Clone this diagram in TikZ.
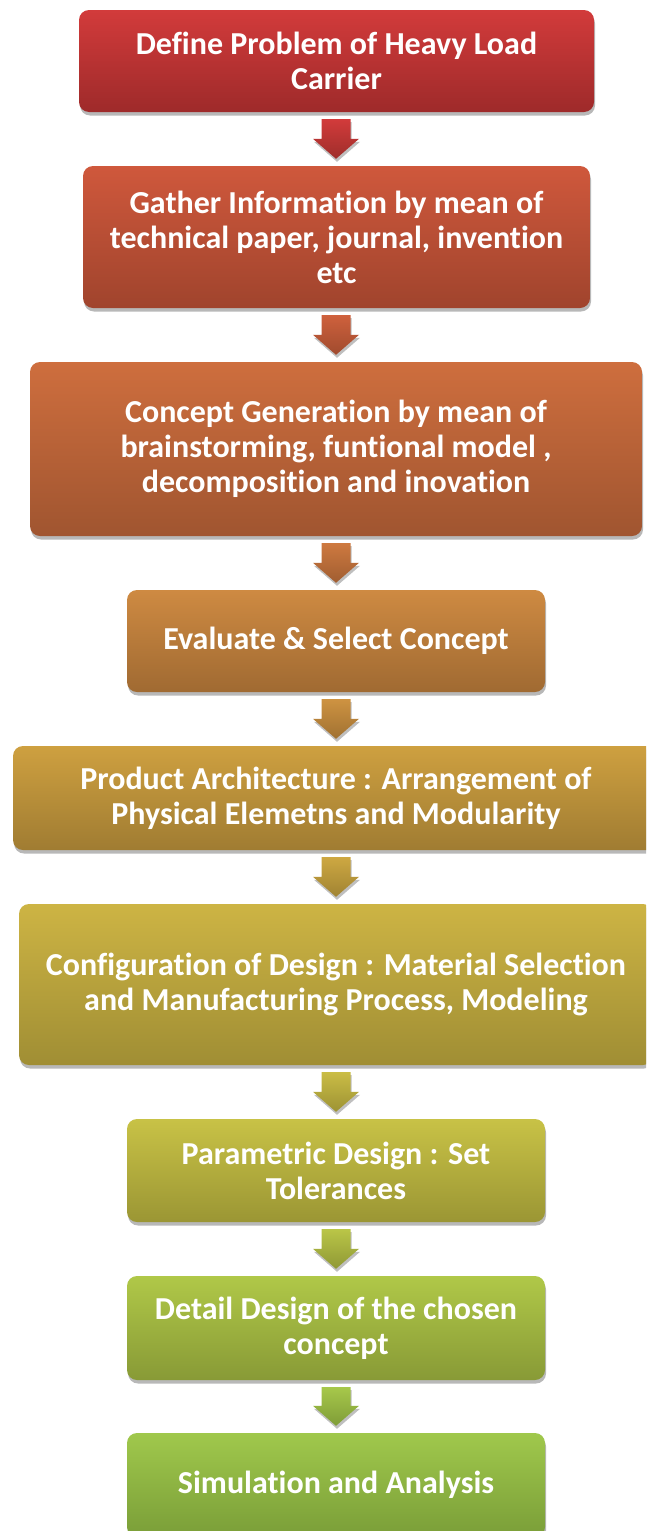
\documentclass[tikz,border=0pt]{standalone}
\usepackage{fontspec}
\setmainfont[Ligatures=NoCommon]{Carlito}
\usetikzlibrary{calc,shadows}

% top / bottom colours of each process box
\definecolor{c1t}{RGB}{210,59,59}   \definecolor{c1b}{RGB}{158,42,42}
\definecolor{c2t}{RGB}{207,88,60}   \definecolor{c2b}{RGB}{160,68,45}
\definecolor{c3t}{RGB}{206,110,62}  \definecolor{c3b}{RGB}{160,85,48}
\definecolor{c4t}{RGB}{206,138,66}  \definecolor{c4b}{RGB}{160,106,50}
\definecolor{c5t}{RGB}{206,160,64}  \definecolor{c5b}{RGB}{160,124,50}
\definecolor{c6t}{RGB}{205,180,68}  \definecolor{c6b}{RGB}{160,142,52}
\definecolor{c7t}{RGB}{200,194,70}  \definecolor{c7b}{RGB}{155,150,52}
\definecolor{c8t}{RGB}{176,200,72}  \definecolor{c8b}{RGB}{136,154,54}
\definecolor{c9t}{RGB}{160,200,76}  \definecolor{c9b}{RGB}{122,158,56}

\tikzset{
  procbox/.style={rounded corners=10pt, inner sep=0pt, align=center,
    text=white, font=\fontsize{32}{35}\selectfont\bfseries,
    drop shadow={shadow xshift=1pt, shadow yshift=-3.5pt, opacity=0.28, fill=black}},
  flowshadow/.style={drop shadow={shadow xshift=1pt, shadow yshift=-3pt, opacity=0.25, fill=black}}
}

% block arrow from the bottom of #1 to the top of #2, shaded #3 -> #4
\newcommand\blockarrow[4]{%
  \path[top color=#3, bottom color=#4, flowshadow]
    ($(#1.south -| ax)+(-14.5,-7)$) -- ($(#1.south -| ax)+(14.5,-7)$)
    -- ($(#2.north -| ax)+(14.5,27)$) -- ($(#2.north -| ax)+(23,27)$)
    -- ($(#2.north -| ax)+(0,7)$) -- ($(#2.north -| ax)+(-23,27)$)
    -- ($(#2.north -| ax)+(-14.5,27)$) -- cycle;}

\begin{document}
\begin{tikzpicture}[x=1pt, y=1pt]
  \useasboundingbox (0,0) rectangle (646,-1531);
  \clip (0,0) rectangle (646,-1531);
  \fill[white] (0,0) rectangle (646,-1531);
  \coordinate (ax) at (336,0);

  \node[procbox, top color=c1t, bottom color=c1b, minimum width=515pt, minimum height=102pt]
    (n1) at (336.5,-61) {Define Problem of Heavy Load\\Carrier};
  \node[procbox, top color=c2t, bottom color=c2b, minimum width=507pt, minimum height=142pt]
    (n2) at (336.5,-237) {Gather Information by mean of\\technical paper, journal, invention\\etc};
  \node[procbox, top color=c3t, bottom color=c3b, minimum width=612pt, minimum height=174pt]
    (n3) at (336,-449) {Concept Generation by mean of\\brainstorming, funtional model ,\\decomposition and inovation};
  \node[procbox, top color=c4t, bottom color=c4b, minimum width=418pt, minimum height=102pt]
    (n4) at (336,-641) {Evaluate \& Select Concept};
  \node[procbox, top color=c5t, bottom color=c5b, minimum width=646pt, minimum height=104pt]
    (n5) at (336,-798) {Product Architecture : Arrangement of\\Physical Elemetns and Modularity};
  \node[procbox, top color=c6t, bottom color=c6b, minimum width=634pt, minimum height=161pt]
    (n6) at (336,-984.5) {Configuration of Design : Material Selection\\and Manufacturing Process, Modeling};
  \node[procbox, top color=c7t, bottom color=c7b, minimum width=418pt, minimum height=103pt]
    (n7) at (336,-1170.5) {Parametric Design : Set\\Tolerances};
  \node[procbox, top color=c8t, bottom color=c8b, minimum width=418pt, minimum height=104pt]
    (n8) at (336,-1328) {Detail Design of the chosen\\concept};
  \node[procbox, top color=c9t, bottom color=c9b, minimum width=418pt, minimum height=104pt]
    (n9) at (336,-1485) {Simulation and Analysis};

  \blockarrow{n1}{n2}{c1t}{c1b!85!c2b}
  \blockarrow{n2}{n3}{c2t!60!c3t}{c2b!60!c3b}
  \blockarrow{n3}{n4}{c3t!60!c4t}{c3b!60!c4b}
  \blockarrow{n4}{n5}{c4t!60!c5t}{c4b!60!c5b}
  \blockarrow{n5}{n6}{c5t!60!c6t}{c5b!60!c6b}
  \blockarrow{n6}{n7}{c6t!40!c7t}{c6b!40!c7b}
  \blockarrow{n7}{n8}{c7t!40!c8t}{c7b!40!c8b}
  \blockarrow{n8}{n9}{c8t!40!c9t}{c8b!40!c9b}
\end{tikzpicture}
\end{document}
